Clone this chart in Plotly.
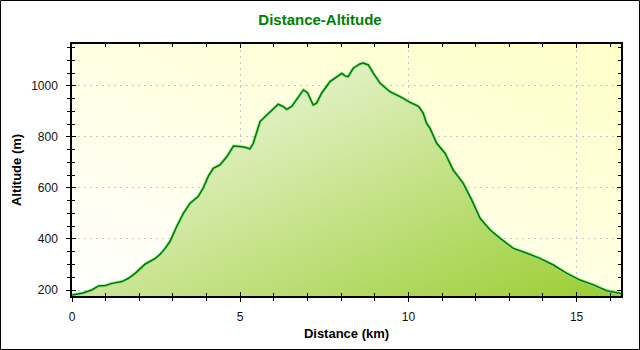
import base64
import plotly.graph_objects as go

# Track profile: cumulative distance (km) and altitude (m)
distance_km = [0.00, 0.30, 0.59, 0.79, 1.00, 1.19, 1.49, 1.68, 1.88, 2.18, 2.48, 2.62,
               2.77, 2.92, 3.11, 3.31, 3.51, 3.75, 3.90, 4.05, 4.20, 4.40, 4.60, 4.80,
               4.99, 5.14, 5.29, 5.39, 5.59, 5.89, 6.13, 6.28, 6.38, 6.53, 6.73, 6.88,
               7.00, 7.17, 7.27, 7.42, 7.67, 7.82, 8.02, 8.12, 8.21, 8.36, 8.56, 8.66,
               8.81, 8.96, 9.16, 9.45, 9.75, 10.05, 10.30, 10.44, 10.54, 10.64, 10.84,
               11.09, 11.33, 11.63, 11.88, 12.13, 12.43, 12.72, 13.12, 13.52, 13.91,
               14.31, 14.71, 15.10, 15.50, 15.89, 16.24, 16.32]
altitude_m = [180, 187, 200, 216, 218, 226, 233, 246, 265, 302, 324, 340,
              363, 392, 448, 500, 540, 566, 599, 645, 677, 690, 722, 764,
              762, 759, 753, 775, 860, 899, 928, 919, 908, 919, 958, 984,
              973, 925, 932, 971, 1017, 1030, 1049, 1039, 1036, 1069, 1086, 1089,
              1082, 1049, 1010, 977, 958, 935, 920, 893, 853, 834, 775,
              736, 670, 618, 553, 481, 435, 403, 363, 344, 324,
              298, 265, 239, 220, 197, 189, 186]

x_range = [0, 16.32]
y_range = [176.5, 1164]
x_ticks = [0, 5, 10, 15]
y_ticks = [200, 400, 600, 800, 1000]

FONT = "Liberation Sans, Arial, sans-serif"
GREEN_END = "#9ACD32"

# Diagonal background wash for the plotting area
bg_svg = (
    "<svg xmlns='http://www.w3.org/2000/svg' width='100' height='100' viewBox='0 0 100 100' "
    "preserveAspectRatio='none'><defs><linearGradient id='g' x1='0' y1='1' x2='1' y2='0'>"
    "<stop offset='0' stop-color='#FFFFFF'/><stop offset='1' stop-color='#FFFFC8'/>"
    "</linearGradient></defs><rect width='100' height='100' fill='url(#g)'/></svg>"
)
bg_uri = "data:image/svg+xml;base64," + base64.b64encode(bg_svg.encode()).decode()

fig = go.Figure()

# Area: horizontal white->green gradient, then a half-opaque vertical one on top,
# which together give a diagonal gradient from the top-left to the bottom-right.
fig.add_trace(go.Scatter(
    x=distance_km, y=altitude_m, mode="lines", line=dict(width=0),
    fill="tozeroy",
    fillgradient=dict(type="horizontal", start=x_range[0], stop=x_range[1],
                      colorscale=[[0, "#FFFFFF"], [1, GREEN_END]]),
    hoverinfo="skip", showlegend=False,
))
fig.add_trace(go.Scatter(
    x=distance_km, y=altitude_m, mode="lines", line=dict(width=0),
    fill="tozeroy",
    fillgradient=dict(type="vertical", start=y_range[0], stop=y_range[1],
                      colorscale=[[0, "rgba(154,205,50,0.5)"], [1, "rgba(255,255,255,0.5)"]]),
    hoverinfo="skip", showlegend=False,
))
# Light halo under the profile line
fig.add_trace(go.Scatter(
    x=distance_km, y=altitude_m, mode="lines",
    line=dict(color="#8EE58E", width=3),
    hoverinfo="skip", showlegend=False,
))
# Profile line (on the overlay axes, drawn last)
fig.add_trace(go.Scatter(
    x=distance_km, y=altitude_m, mode="lines",
    line=dict(color="#007800", width=1.5),
    xaxis="x2", yaxis="y2", showlegend=False,
))

axis_font = dict(family=FONT, size=12, color="#111111")
title_font = dict(family=FONT, size=13, color="#000000")

fig.update_layout(
    width=640, height=350,
    margin=dict(l=72, r=19, t=44, b=54),
    paper_bgcolor="#FFFFFF",
    plot_bgcolor="rgba(0,0,0,0)",
    title=dict(text="<b>Distance-Altitude</b>", x=0.5, xanchor="center",
               y=1 - 20 / 350, yanchor="middle", yref="container",
               font=dict(family=FONT, size=15, color="#008000")),
    xaxis=dict(
        range=x_range, tickvals=x_ticks, ticks="outside", ticklen=4, tickwidth=1,
        tickcolor="#000", showline=True, linecolor="#000", linewidth=1.5, mirror=True,
        showgrid=True, gridcolor="#C8C8C8", griddash="2px,4px", gridwidth=1,
        zeroline=False, tickfont=axis_font, ticklabelstandoff=5,
        minor=dict(dtick=1, ticks="outside", ticklen=3, tickcolor="#000", showgrid=False),
        title=dict(text="<b>Distance (km)</b>", font=title_font, standoff=6),
    ),
    yaxis=dict(
        range=y_range, tickvals=y_ticks, ticks="outside", ticklen=4, tickwidth=1,
        tickcolor="#000", showline=True, linecolor="#000", linewidth=1.5, mirror=True,
        showgrid=True, gridcolor="#C8C8C8", griddash="2px,4px", gridwidth=1,
        zeroline=False, tickfont=axis_font, ticklabelstandoff=6,
        minor=dict(tick0=200, dtick=50, ticks="outside", ticklen=3, tickcolor="#000",
                   showgrid=False),
        title=dict(text="<b>Altitude (m)</b>", font=title_font, standoff=7),
    ),
    xaxis2=dict(
        range=x_range, overlaying="x", anchor="y2", side="bottom",
        tickvals=x_ticks, ticks="inside", ticklen=4, tickcolor="#000", mirror="ticks",
        showticklabels=False, showgrid=False, zeroline=False, showline=False,
        minor=dict(dtick=1, ticks="inside", ticklen=3, tickcolor="#000"),
    ),
    yaxis2=dict(
        range=y_range, overlaying="y", anchor="x2", side="left",
        tickvals=y_ticks, ticks="inside", ticklen=4, tickcolor="#000", mirror="ticks",
        showticklabels=False, showgrid=False, zeroline=False, showline=False,
        minor=dict(tick0=200, dtick=50, ticks="inside", ticklen=3, tickcolor="#000"),
    ),
    images=[dict(source=bg_uri, xref="paper", yref="paper", x=0, y=1,
                 sizex=1, sizey=1, xanchor="left", yanchor="top",
                 sizing="stretch", layer="below")],
    shapes=[dict(type="rect", xref="paper", yref="paper",
                 x0=-71.5 / 549, x1=1 + 18.5 / 549, y0=-53.5 / 252, y1=1 + 43.5 / 252,
                 line=dict(color="#000", width=1), fillcolor="rgba(0,0,0,0)")],
    showlegend=False,
)

fig.write_html("out.html")
